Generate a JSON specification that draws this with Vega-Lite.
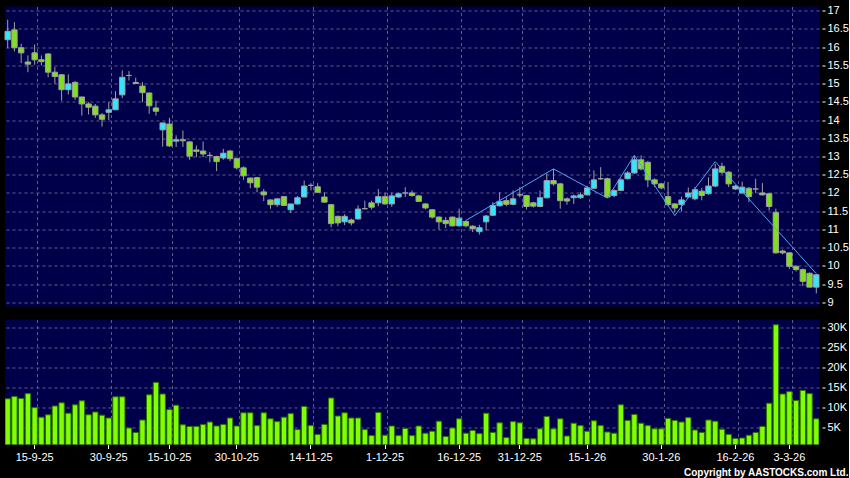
{
"$schema": "https://vega.github.io/schema/vega-lite/v6.json",
"background": "#000000",
"padding": {"left": 4, "top": 4.5, "right": 0, "bottom": 0},
"autosize": {"type": "pad"},
"spacing": 13,
"bounds": "flush",
"config": {
  "view": {"fill": "#00004a", "stroke": null},
  "font": "Liberation Sans",
  "axis": {"gridColor": "#5c5c8c", "gridDash": [3, 3], "gridWidth": 1, "labelColor": "#ffffff", "labelFont": "Liberation Sans", "labelFontSize": 11, "tickColor": "#ffffff", "domain": false, "title": null, "labelOverlap": false},
  "axisQuantitative": {"labelOverlap": false}
},
"title": {"text": "Copyright by AASTOCKS.com Ltd.", "orient": "bottom", "anchor": "end", "frame": "bounds", "fontSize": 10, "fontWeight": "bold", "color": "#ffffff", "font": "Liberation Sans", "offset": 5},
"datasets": {
"ohlc": [
{"date":"2025-09-09","open":16.20,"high":16.75,"low":15.97,"close":16.43,"volume":12100},
{"date":"2025-09-10","open":16.47,"high":16.68,"low":15.88,"close":15.98,"volume":12700},
{"date":"2025-09-11","open":15.98,"high":16.09,"low":15.56,"close":15.84,"volume":12200},
{"date":"2025-09-12","open":15.59,"high":15.77,"low":15.31,"close":15.53,"volume":13400},
{"date":"2025-09-15","open":15.84,"high":16.07,"low":15.51,"close":15.65,"volume":9900},
{"date":"2025-09-16","open":15.65,"high":15.77,"low":15.49,"close":15.60,"volume":7500},
{"date":"2025-09-17","open":15.81,"high":15.83,"low":15.17,"close":15.31,"volume":8100},
{"date":"2025-09-18","open":15.31,"high":15.45,"low":14.99,"close":15.19,"volume":10300},
{"date":"2025-09-19","open":15.24,"high":15.26,"low":14.53,"close":14.83,"volume":11100},
{"date":"2025-09-22","open":14.83,"high":15.25,"low":14.70,"close":14.99,"volume":8500},
{"date":"2025-09-23","open":15.03,"high":15.07,"low":14.55,"close":14.63,"volume":10600},
{"date":"2025-09-24","open":14.63,"high":14.64,"low":14.12,"close":14.44,"volume":11600},
{"date":"2025-09-25","open":14.44,"high":14.49,"low":14.15,"close":14.35,"volume":8100},
{"date":"2025-09-26","open":14.38,"high":14.44,"low":14.06,"close":14.14,"volume":8800},
{"date":"2025-09-29","open":14.14,"high":14.19,"low":13.82,"close":14.02,"volume":8000},
{"date":"2025-09-30","open":14.21,"high":14.49,"low":14.00,"close":14.28,"volume":7300},
{"date":"2025-10-02","open":14.28,"high":14.79,"low":14.28,"close":14.58,"volume":12600},
{"date":"2025-10-03","open":14.69,"high":15.36,"low":14.60,"close":15.17,"volume":12600},
{"date":"2025-10-06","open":15.22,"high":15.34,"low":15.08,"close":15.22,"volume":4800},
{"date":"2025-10-08","open":15.03,"high":15.16,"low":14.99,"close":15.00,"volume":3700},
{"date":"2025-10-09","open":14.93,"high":15.04,"low":14.49,"close":14.75,"volume":6800},
{"date":"2025-10-10","open":14.74,"high":14.75,"low":14.17,"close":14.39,"volume":13100},
{"date":"2025-10-13","open":14.33,"high":14.53,"low":14.12,"close":14.24,"volume":16200},
{"date":"2025-10-14","open":13.73,"high":13.92,"low":13.27,"close":13.92,"volume":13300},
{"date":"2025-10-15","open":13.89,"high":14.06,"low":13.26,"close":13.29,"volume":9400},
{"date":"2025-10-16","open":13.42,"high":13.58,"low":13.26,"close":13.46,"volume":10500},
{"date":"2025-10-17","open":13.46,"high":13.71,"low":13.26,"close":13.43,"volume":5600},
{"date":"2025-10-20","open":13.40,"high":13.42,"low":12.91,"close":13.01,"volume":5200},
{"date":"2025-10-21","open":13.18,"high":13.30,"low":12.98,"close":13.14,"volume":5200},
{"date":"2025-10-22","open":13.15,"high":13.41,"low":12.98,"close":13.07,"volume":5700},
{"date":"2025-10-23","open":13.03,"high":13.12,"low":12.84,"close":13.03,"volume":6300},
{"date":"2025-10-24","open":13.00,"high":13.02,"low":12.60,"close":12.86,"volume":5300},
{"date":"2025-10-27","open":12.96,"high":13.21,"low":12.91,"close":13.09,"volume":5700},
{"date":"2025-10-28","open":13.15,"high":13.18,"low":12.87,"close":12.94,"volume":7300},
{"date":"2025-10-30","open":12.94,"high":12.96,"low":12.64,"close":12.69,"volume":5300},
{"date":"2025-10-31","open":12.69,"high":12.73,"low":12.36,"close":12.47,"volume":8600},
{"date":"2025-11-03","open":12.41,"high":12.42,"low":12.13,"close":12.28,"volume":8600},
{"date":"2025-11-04","open":12.42,"high":12.44,"low":12.02,"close":12.16,"volume":5400},
{"date":"2025-11-05","open":12.03,"high":12.11,"low":11.78,"close":11.95,"volume":8600},
{"date":"2025-11-06","open":11.81,"high":11.82,"low":11.57,"close":11.68,"volume":7100},
{"date":"2025-11-07","open":11.68,"high":11.86,"low":11.62,"close":11.84,"volume":6400},
{"date":"2025-11-10","open":11.90,"high":11.92,"low":11.64,"close":11.66,"volume":7500},
{"date":"2025-11-11","open":11.54,"high":11.70,"low":11.45,"close":11.70,"volume":8400},
{"date":"2025-11-12","open":11.70,"high":11.92,"low":11.68,"close":11.87,"volume":4400},
{"date":"2025-11-13","open":11.89,"high":12.34,"low":11.89,"close":12.19,"volume":10200},
{"date":"2025-11-14","open":12.21,"high":12.27,"low":12.07,"close":12.21,"volume":5400},
{"date":"2025-11-17","open":12.17,"high":12.27,"low":12.00,"close":12.02,"volume":3200},
{"date":"2025-11-18","open":11.89,"high":12.02,"low":11.73,"close":11.75,"volume":5700},
{"date":"2025-11-19","open":11.68,"high":11.70,"low":11.06,"close":11.16,"volume":12300},
{"date":"2025-11-20","open":11.36,"high":11.38,"low":11.09,"close":11.18,"volume":7800},
{"date":"2025-11-21","open":11.21,"high":11.42,"low":11.12,"close":11.36,"volume":8600},
{"date":"2025-11-24","open":11.26,"high":11.30,"low":11.11,"close":11.18,"volume":7300},
{"date":"2025-11-25","open":11.29,"high":11.66,"low":11.27,"close":11.56,"volume":7300},
{"date":"2025-11-26","open":11.57,"high":11.79,"low":11.55,"close":11.57,"volume":4400},
{"date":"2025-11-27","open":11.73,"high":11.79,"low":11.55,"close":11.61,"volume":2900},
{"date":"2025-11-28","open":11.73,"high":12.11,"low":11.64,"close":11.90,"volume":8700},
{"date":"2025-12-01","open":11.90,"high":12.01,"low":11.68,"close":11.70,"volume":3000},
{"date":"2025-12-02","open":11.70,"high":12.01,"low":11.62,"close":11.92,"volume":5300},
{"date":"2025-12-03","open":11.89,"high":12.01,"low":11.87,"close":11.98,"volume":2900},
{"date":"2025-12-04","open":12.00,"high":12.16,"low":11.89,"close":12.00,"volume":4700},
{"date":"2025-12-05","open":12.00,"high":12.07,"low":11.90,"close":11.93,"volume":2900},
{"date":"2025-12-08","open":11.92,"high":11.95,"low":11.76,"close":11.77,"volume":5300},
{"date":"2025-12-09","open":11.70,"high":11.72,"low":11.55,"close":11.59,"volume":3500},
{"date":"2025-12-10","open":11.54,"high":11.56,"low":11.30,"close":11.34,"volume":4000},
{"date":"2025-12-11","open":11.34,"high":11.36,"low":10.99,"close":11.21,"volume":6500},
{"date":"2025-12-12","open":11.25,"high":11.34,"low":11.04,"close":11.16,"volume":2700},
{"date":"2025-12-15","open":11.34,"high":11.35,"low":11.08,"close":11.10,"volume":4800},
{"date":"2025-12-16","open":11.10,"high":11.57,"low":11.08,"close":11.31,"volume":7100},
{"date":"2025-12-17","open":11.22,"high":11.25,"low":11.06,"close":11.10,"volume":3500},
{"date":"2025-12-18","open":11.09,"high":11.12,"low":10.93,"close":11.02,"volume":4200},
{"date":"2025-12-19","open":10.94,"high":11.13,"low":10.86,"close":11.05,"volume":3400},
{"date":"2025-12-22","open":11.21,"high":11.40,"low":10.97,"close":11.37,"volume":8500},
{"date":"2025-12-23","open":11.39,"high":11.75,"low":11.37,"close":11.66,"volume":3700},
{"date":"2025-12-24","open":11.65,"high":12.02,"low":11.63,"close":11.77,"volume":6100},
{"date":"2025-12-29","open":11.79,"high":11.88,"low":11.64,"close":11.69,"volume":2400},
{"date":"2025-12-30","open":11.69,"high":12.07,"low":11.66,"close":11.84,"volume":6400},
{"date":"2025-12-31","open":11.95,"high":12.16,"low":11.88,"close":11.95,"volume":6100},
{"date":"2026-01-02","open":11.93,"high":11.95,"low":11.55,"close":11.63,"volume":2200},
{"date":"2026-01-05","open":11.73,"high":11.76,"low":11.60,"close":11.64,"volume":2100},
{"date":"2026-01-06","open":11.63,"high":12.07,"low":11.61,"close":11.87,"volume":4600},
{"date":"2026-01-07","open":11.87,"high":12.53,"low":11.85,"close":12.34,"volume":7700},
{"date":"2026-01-08","open":12.34,"high":12.66,"low":12.20,"close":12.25,"volume":4600},
{"date":"2026-01-09","open":12.25,"high":12.28,"low":11.57,"close":11.79,"volume":7100},
{"date":"2026-01-12","open":11.84,"high":11.88,"low":11.68,"close":11.78,"volume":2800},
{"date":"2026-01-13","open":11.87,"high":11.96,"low":11.70,"close":11.92,"volume":6000},
{"date":"2026-01-14","open":11.87,"high":12.02,"low":11.84,"close":11.95,"volume":5400},
{"date":"2026-01-15","open":11.95,"high":12.20,"low":11.93,"close":12.14,"volume":4000},
{"date":"2026-01-16","open":12.13,"high":12.62,"low":12.10,"close":12.36,"volume":6600},
{"date":"2026-01-19","open":12.39,"high":12.71,"low":12.36,"close":12.39,"volume":5400},
{"date":"2026-01-20","open":12.39,"high":12.42,"low":11.86,"close":11.89,"volume":3800},
{"date":"2026-01-21","open":11.93,"high":12.10,"low":11.88,"close":12.07,"volume":3500},
{"date":"2026-01-22","open":12.07,"high":12.40,"low":12.05,"close":12.36,"volume":10600},
{"date":"2026-01-23","open":12.39,"high":12.60,"low":12.37,"close":12.55,"volume":6700},
{"date":"2026-01-26","open":12.55,"high":13.03,"low":12.52,"close":12.91,"volume":8200},
{"date":"2026-01-27","open":12.91,"high":13.03,"low":12.62,"close":12.66,"volume":6000},
{"date":"2026-01-28","open":12.84,"high":12.88,"low":12.16,"close":12.36,"volume":5400},
{"date":"2026-01-29","open":12.36,"high":12.40,"low":12.16,"close":12.25,"volume":4600},
{"date":"2026-01-30","open":12.25,"high":12.28,"low":12.10,"close":12.14,"volume":4600},
{"date":"2026-02-02","open":11.90,"high":12.30,"low":11.65,"close":11.68,"volume":7200},
{"date":"2026-02-03","open":11.70,"high":11.72,"low":11.47,"close":11.59,"volume":6700},
{"date":"2026-02-04","open":11.68,"high":11.90,"low":11.50,"close":11.81,"volume":6300},
{"date":"2026-02-05","open":11.89,"high":12.15,"low":11.86,"close":12.00,"volume":7400},
{"date":"2026-02-06","open":11.84,"high":12.17,"low":11.80,"close":12.09,"volume":4300},
{"date":"2026-02-09","open":12.05,"high":12.14,"low":11.80,"close":11.93,"volume":3700},
{"date":"2026-02-10","open":11.98,"high":12.43,"low":11.95,"close":12.19,"volume":6800},
{"date":"2026-02-11","open":12.19,"high":12.80,"low":12.16,"close":12.66,"volume":6500},
{"date":"2026-02-12","open":12.73,"high":12.83,"low":12.52,"close":12.57,"volume":4500},
{"date":"2026-02-13","open":12.57,"high":12.60,"low":12.16,"close":12.25,"volume":3200},
{"date":"2026-02-16","open":12.11,"high":12.22,"low":12.08,"close":12.19,"volume":2200},
{"date":"2026-02-20","open":12.00,"high":12.31,"low":11.98,"close":12.16,"volume":2300},
{"date":"2026-02-23","open":12.13,"high":12.16,"low":11.75,"close":11.90,"volume":3000},
{"date":"2026-02-24","open":12.11,"high":12.39,"low":12.00,"close":12.11,"volume":3700},
{"date":"2026-02-25","open":12.00,"high":12.27,"low":11.93,"close":11.95,"volume":5200},
{"date":"2026-02-26","open":11.98,"high":12.00,"low":11.52,"close":11.63,"volume":11000},
{"date":"2026-02-27","open":11.47,"high":11.57,"low":10.34,"close":10.36,"volume":30600},
{"date":"2026-03-02","open":10.41,"high":10.45,"low":10.32,"close":10.36,"volume":13300},
{"date":"2026-03-03","open":10.36,"high":10.38,"low":9.92,"close":9.99,"volume":13900},
{"date":"2026-03-04","open":9.99,"high":10.02,"low":9.85,"close":9.90,"volume":11700},
{"date":"2026-03-05","open":9.90,"high":9.93,"low":9.45,"close":9.58,"volume":14200},
{"date":"2026-03-06","open":9.80,"high":9.82,"low":9.42,"close":9.42,"volume":13400},
{"date":"2026-03-09","open":9.42,"high":9.78,"low":9.25,"close":9.76,"volume":7100}
],
"zig": [
{"date":"2025-12-17","price":11.25},
{"date":"2026-01-08","price":12.66},
{"date":"2026-01-20","price":11.86},
{"date":"2026-01-26","price":13.03},
{"date":"2026-02-03","price":11.38},
{"date":"2026-02-11","price":12.86},
{"date":"2026-03-09","price":9.79}
]
},
"vconcat": [
{
  "width": 814, "height": 300,
  "layer": [
    {
      "data": {"name": "ohlc"},
      "mark": {"type": "rule", "color": "#a0a0a0", "strokeWidth": 1},
      "encoding": {
        "x": {"field": "date", "type": "ordinal", "scale": {"paddingInner": 0.2, "paddingOuter": 0},
              "axis": {"values": ["2025-09-15","2025-09-30","2025-10-15","2025-10-30","2025-11-14","2025-12-01","2025-12-16","2025-12-31","2026-01-15","2026-01-30","2026-02-16","2026-03-03"], "bandPosition": 1, "labels": false, "ticks": false, "domain": false, "grid": true}},
        "y": {"field": "low", "type": "quantitative", "scale": {"domain": [8.89, 17.11], "zero": false, "nice": false},
              "axis": {"orient": "right", "values": [9,9.5,10,10.5,11,11.5,12,12.5,13,13.5,14,14.5,15,15.5,16,16.5,17], "labelExpr": "'' + datum.value", "offset": 3, "tickSize": 3, "labelPadding": 2, "grid": true, "labelOverlap": false}},
        "y2": {"field": "high"}
      }
    },
    {
      "data": {"name": "ohlc"},
      "mark": {"type": "bar", "stroke": "#a0a0a0", "strokeWidth": 1},
      "encoding": {
        "x": {"field": "date", "type": "ordinal",
              "axis": {"values": ["2025-09-15","2025-09-30","2025-10-15","2025-10-30","2025-11-14","2025-12-01","2025-12-16","2025-12-31","2026-01-15","2026-01-30","2026-02-16","2026-03-03"], "bandPosition": 1, "labels": false, "ticks": false, "domain": false, "grid": true}},
        "y": {"field": "open", "type": "quantitative",
              "axis": {"orient": "right", "values": [9,9.5,10,10.5,11,11.5,12,12.5,13,13.5,14,14.5,15,15.5,16,16.5,17], "labelExpr": "'' + datum.value", "offset": 3, "tickSize": 3, "labelPadding": 2, "grid": true, "labelOverlap": false}},
        "y2": {"field": "close"},
        "fill": {"condition": [{"test": "datum.close > datum.open", "value": "#33e6ff"}, {"test": "datum.close < datum.open", "value": "#80e020"}], "value": "#a0a0a0"}
      }
    },
    {
      "data": {"name": "zig"},
      "mark": {"type": "line", "color": "#4aa8ee", "strokeWidth": 1},
      "encoding": {
        "x": {"field": "date", "type": "ordinal",
              "axis": {"values": ["2025-09-15","2025-09-30","2025-10-15","2025-10-30","2025-11-14","2025-12-01","2025-12-16","2025-12-31","2026-01-15","2026-01-30","2026-02-16","2026-03-03"], "bandPosition": 1, "labels": false, "ticks": false, "domain": false, "grid": true}},
        "y": {"field": "price", "type": "quantitative",
              "axis": {"orient": "right", "values": [9,9.5,10,10.5,11,11.5,12,12.5,13,13.5,14,14.5,15,15.5,16,16.5,17], "labelExpr": "'' + datum.value", "offset": 3, "tickSize": 3, "labelPadding": 2, "grid": true, "labelOverlap": false}}
      }
    }
  ]
},
{
  "width": 814, "height": 125,
  "data": {"name": "ohlc"},
  "layer": [
    {
      "mark": {"type": "bar", "fill": "#80ff00", "stroke": "#2a6e00", "strokeWidth": 1, "clip": true},
      "encoding": {
        "x": {"field": "date", "type": "ordinal", "scale": {"paddingInner": 0.2, "paddingOuter": 0},
              "axis": {"orient": "bottom", "values": ["2025-09-15","2025-09-30","2025-10-15","2025-10-30","2025-11-14","2025-12-01","2025-12-16","2025-12-31","2026-01-15","2026-01-30","2026-02-16","2026-03-03"], "bandPosition": 1, "labels": false, "ticks": false, "domain": false, "grid": true}},
        "y": {"field": "volume", "type": "quantitative", "scale": {"domain": [675, 31925], "zero": false, "nice": false},
              "axis": {"orient": "right", "values": [5000,10000,15000,20000,25000,30000], "labelExpr": "(datum.value/1000) + 'K'", "offset": 3, "tickSize": 3, "labelPadding": 2, "grid": true}}
      }
    },
    {
      "mark": {"type": "rule", "opacity": 0},
      "encoding": {
        "x": {"field": "date", "type": "ordinal",
              "axis": {"orient": "bottom", "values": ["2025-09-15","2025-09-30","2025-10-15","2025-10-30","2025-11-14","2025-12-01","2025-12-16","2025-12-31","2026-01-15","2026-01-30","2026-02-16","2026-03-03"], "bandPosition": 0.5, "grid": false, "ticks": true, "tickSize": 4, "labelPadding": 3, "labelAngle": 0, "labelFontSize": 11, "labelExpr": "toNumber(slice(datum.value,8,10)) + '-' + toNumber(slice(datum.value,5,7)) + '-' + slice(datum.value,2,4)"}}
      }
    }
  ],
  "resolve": {"axis": {"x": "independent"}}
}
]
}
